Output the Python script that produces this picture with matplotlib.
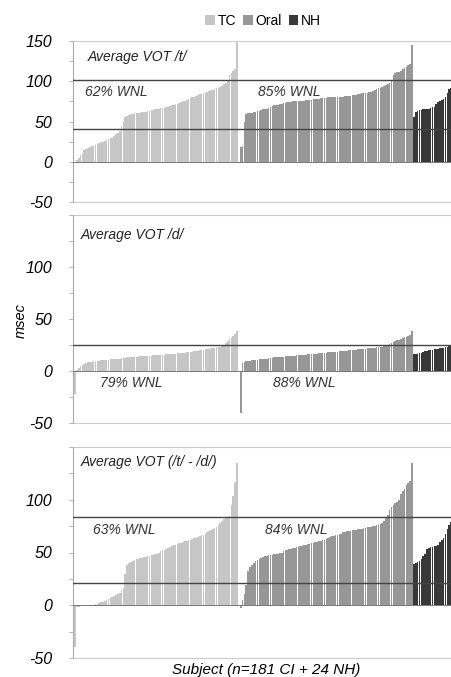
import numpy as np
import matplotlib
matplotlib.use("Agg")
import matplotlib.pyplot as plt
from matplotlib.patches import Patch

plt.rcParams['font.family'] = ['Liberation Sans', 'DejaVu Sans']
plt.rcParams['axes.unicode_minus'] = False

groups = ["TC", "Oral", "NH"]
colors = ["#c6c6c6", "#979797", "#383838"]

# Panel 1: Average VOT /t/
tc_t = [0, 2, 5, 9,
        10, 15, 16, 17, 18, 19, 20, 21, 22, 23,
        24, 25, 26, 27, 28, 29, 30, 32, 34, 36,
        38, 44, 50,
        55, 57, 58, 59, 59, 60, 60, 61, 61, 62, 62, 62, 63,
        63, 64, 64, 65, 66, 66, 67, 67, 67, 68,
        68, 69, 70, 71, 72, 72, 73, 74, 75, 76,
        77, 78, 79, 80, 81, 82, 83, 84, 84, 85,
        86, 87, 88, 89, 89, 90, 91, 92, 93, 94,
        96, 98, 100, 108, 110, 113, 115, 150]
oral_t = [18, 20, 50, 59, 60, 61, 61, 62, 62, 63,
          63, 64, 65, 66, 66, 67, 68, 69, 70, 71,
          71, 72, 72, 73, 73, 74, 74, 74, 75, 75,
          75, 75, 76, 76, 76, 77, 77, 77, 77, 78,
          78, 78, 78, 79, 79, 79, 79, 80, 80, 80,
          80, 80, 81, 81, 81, 81, 82, 82, 82, 82,
          83, 83, 83, 84, 84, 85, 85, 86, 86, 87,
          87, 88, 89, 90, 91, 92, 93, 94, 95, 97,
          98, 100, 108, 110, 111, 112, 113, 115,
          116, 118, 120, 122, 145]
nh_t = [56, 62, 63, 64, 64, 65, 65, 66, 66, 67, 68, 68,
        72, 74, 76, 77, 78, 80, 86, 90, 92, 95, 98, 102]

# Panel 2: Average VOT /d/
tc_d = [-22, 1, 3, 5,
        6, 7, 8, 8.5, 9, 9, 9.5, 10, 10, 10,
        10.5, 10.5, 11, 11, 11, 11.5, 11.5, 11.5, 12, 12,
        12, 12.5, 12.5, 12.5, 13, 13, 13, 13, 13.5, 13.5,
        13.5, 14, 14, 14, 14, 14.5, 14.5, 14.5, 15, 15,
        15, 15, 15.5, 15.5, 15.5, 16, 16, 16, 16.5, 16.5,
        16.5, 17, 17, 17, 17.5, 17.5, 18, 18, 18.5, 18.5,
        19, 19, 19.5, 20, 20, 20.5, 21, 21, 21.5, 22,
        22, 22.5, 23, 23, 23.5, 24, 25, 27, 29, 31,
        32, 34, 36, 38]
oral_d = [-40, 8, 9, 9.5, 10, 10, 10.5, 10.5, 11, 11,
          11.5, 11.5, 12, 12, 12, 12.5, 12.5, 12.5, 13, 13,
          13, 13.5, 13.5, 13.5, 14, 14, 14, 14.5, 14.5, 14.5,
          15, 15, 15, 15.5, 15.5, 15.5, 16, 16, 16, 16.5,
          16.5, 16.5, 17, 17, 17, 17.5, 17.5, 18, 18, 18,
          18.5, 18.5, 18.5, 19, 19, 19.5, 19.5, 19.5, 20, 20,
          20, 20.5, 20.5, 21, 21, 21, 21.5, 21.5, 22, 22,
          22, 22.5, 22.5, 23, 23, 23.5, 23.5, 24, 24, 25,
          26, 27, 28, 29, 29.5, 30, 31, 32, 32.5, 33,
          34, 35, 38]
nh_d = [16, 16, 16.5, 17, 17.5, 18, 19, 19.5, 20, 20, 20.5, 21,
        21, 21.5, 22, 22, 22.5, 23, 23.5, 24, 25, 26, 27, 28]

# Panel 3: Average VOT (/t/ - /d/)
tc_diff = [-40, -2, -2, -1, -1, -1,
           0, 0, 0, 0, 0.5, 1,
           1.5, 2, 3, 3.5, 4,
           5, 6, 7, 8, 9, 10,
           11, 12, 14, 16,
           30, 38, 40,
           41, 42, 43, 44, 44, 45, 45, 46, 46, 47,
           47, 48, 48, 49, 49, 50, 51, 52, 52, 53,
           54, 55, 56, 57, 57, 58, 59, 59, 60, 61,
           61, 62, 62, 63, 64, 64, 65, 66, 67, 67,
           68, 69, 70, 71, 72, 73, 74, 76, 78, 80,
           82, 83, 84, 85, 95, 104, 117, 135]
oral_diff = [-3, 5, 11, 19, 32, 36, 38, 40, 42, 43,
             44, 45, 46, 47, 47, 48, 48, 48, 49, 49,
             49, 50, 50, 51, 52, 52, 53, 53, 54, 54,
             55, 55, 56, 56, 57, 57, 58, 58, 59, 59,
             60, 60, 61, 61, 62, 62, 63, 64, 65, 66,
             66, 67, 67, 68, 68, 69, 69, 70, 70, 70,
             71, 71, 71, 72, 72, 72, 73, 73, 74, 74,
             74, 75, 75, 76, 76, 77, 78, 80, 84, 86,
             90, 93, 95, 97, 98, 100, 105, 108, 110, 114,
             116, 118, 135]
nh_diff = [39, 40, 41, 42, 44, 47, 49, 53, 54, 55, 55, 56,
           56, 57, 60, 62, 64, 68, 72, 76, 79, 82, 86, 90]

panels = [
    dict(title="Average VOT /t/", data=(tc_t, oral_t, nh_t), refs=[102, 41],
         wnl=("62% WNL", "85% WNL")),
    dict(title="Average VOT /d/", data=(tc_d, oral_d, nh_d), refs=[25],
         wnl=("79% WNL", "88% WNL")),
    dict(title="Average VOT (/t/ - /d/)", data=(tc_diff, oral_diff, nh_diff), refs=[84, 21],
         wnl=("63% WNL", "84% WNL")),
]

W, H = 451, 677
fig = plt.figure(figsize=(W / 100, H / 100), dpi=100)

# pixel layout (top, bottom) of each panel
boxes = [(41, 202), (215, 423), (447, 658)]
left_px, right_px = 73, 460
x0_px, dx_px = 75, 1.862
xlim = ((left_px - x0_px) / dx_px, (right_px - x0_px) / dx_px)

# text positions in pixel coords: title, wnl1, wnl2
text_pos = [
    [(88, 57), (85, 92), (258, 92)],
    [(81, 235), (100, 383), (273, 383)],
    [(81, 462), (93, 530), (265, 530)],
]

for pi, (p, (top, bot)) in enumerate(zip(panels, boxes)):
    ax = fig.add_axes([left_px / W, 1 - bot / H, (right_px - left_px) / W, (bot - top) / H])
    tc, oral, nh = p["data"]
    n_tc, n_or, n_nh = len(tc), len(oral), len(nh)
    pos_tc = np.arange(n_tc)
    pos_or = np.arange(n_or) + n_tc + 1
    pos_nh = np.arange(n_nh) + n_tc + 1 + n_or
    for pos, vals, c in zip((pos_tc, pos_or, pos_nh), (tc, oral, nh), colors):
        ax.bar(pos, vals, width=0.88, color=c, linewidth=0)
    ax.set_xlim(*xlim)
    ax.set_ylim(-50, 150)
    ax.axhline(0, color="#777777", lw=0.7, zorder=3)
    for r in p["refs"]:
        ax.axhline(r, color="#444444", lw=1.0, zorder=4)
    ax.axhline(150, color="#cccccc", lw=0.8, clip_on=False)
    ax.axhline(-50, color="#cccccc", lw=0.8, clip_on=False)
    for s in ["top", "bottom", "right"]:
        ax.spines[s].set_visible(False)
    ax.spines["left"].set_color("#aaaaaa")
    ax.spines["left"].set_linewidth(0.8)
    ax.set_xticks([])
    if pi == 0:
        ax.set_yticks([150, 100, 50, 0, -50])
    else:
        ax.set_yticks([100, 50, 0, -50])
    ax.set_yticks(np.arange(-50, 151, 25), minor=True)
    ax.tick_params(axis="y", which="both", length=3, width=0.6, color="#aaaaaa",
                   pad=12, labelsize=11.5)
    for lab in ax.get_yticklabels():
        lab.set_fontstyle("italic")
    (tx, ty), (w1x, w1y), (w2x, w2y) = text_pos[pi]
    fig.text(tx / W, 1 - ty / H, p["title"], fontsize=10, fontstyle="italic",
             va="center", ha="left", color="#222222")
    fig.text(w1x / W, 1 - w1y / H, p["wnl"][0], fontsize=10, fontstyle="italic",
             va="center", ha="left", color="#333333")
    fig.text(w2x / W, 1 - w2y / H, p["wnl"][1], fontsize=10, fontstyle="italic",
             va="center", ha="left", color="#333333")

fig.text(21 / W, 1 - 320 / H, "msec", rotation=90, fontsize=10.5, fontstyle="italic",
         va="center", ha="center")
fig.text(266 / W, 1 - 670 / H, "Subject (n=181 CI + 24 NH)", fontsize=11,
         fontstyle="italic", va="center", ha="center")

handles = [Patch(facecolor=c, edgecolor="none") for c in colors]
fig.legend(handles, groups, loc="center", bbox_to_anchor=(263 / W, 1 - 21 / H), ncol=3,
           frameon=False, fontsize=10, handlelength=0.7, handleheight=0.7,
           handletextpad=0.2, columnspacing=0.5, borderpad=0)

fig.savefig("out.png", dpi=100)
